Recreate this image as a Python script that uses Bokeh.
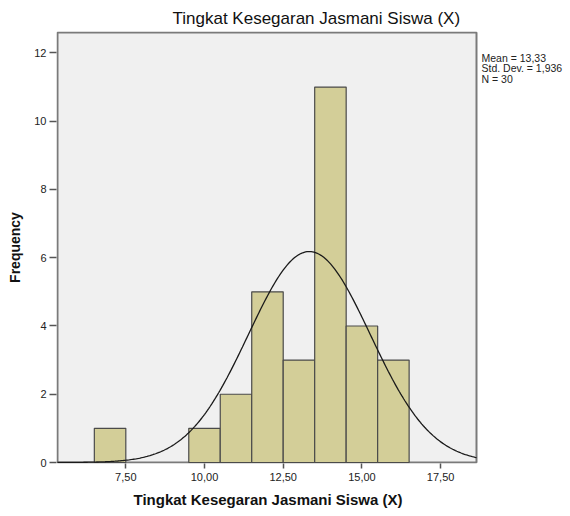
import numpy as np
from bokeh.plotting import figure
from bokeh.models import Range1d, FixedTicker, CustomJSTickFormatter, Title
from bokeh.core.properties import value
from bokeh.embed import file_html
from bokeh.resources import INLINE

# data
bin_centers = [7, 10, 11, 12, 13, 14, 15, 16]
counts = [1, 1, 2, 5, 3, 11, 4, 3]
bin_width = 1.0
mean = 13.33
std_dev = 1.936
n_obs = 30
x_ticks = [7.5, 10.0, 12.5, 15.0, 17.5]
y_ticks = [0, 2, 4, 6, 8, 10, 12]
title_text = "Tingkat Kesegaran Jasmani Siswa (X)"
x_label = "Tingkat Kesegaran Jasmani Siswa (X)"
y_label = "Frequency"
stats_lines = ["Mean = 13,33", "Std. Dev. = 1,936", "N = 30"]

# plotting area (grey box) limits
box_x0, box_x1 = 5.33, 18.64
box_y0, box_y1 = 0, 12.6

# the frame is a little wider than the grey box, so the statistics text fits inside it
px_x = 31.48  # pixels per x unit
px_y = 34.13  # pixels per y unit
x_range = Range1d(box_x0 - 1 / px_x, box_x1 + 90 / px_x)
y_range = Range1d(box_y0 - 1 / px_y, box_y1 + 1 / px_y)

p = figure(width=570, height=516, output_backend="svg", toolbar_location=None,
           x_range=x_range, y_range=y_range,
           min_border_left=56, min_border_right=4, min_border_top=31, min_border_bottom=53)

p.background_fill_color = "white"
p.border_fill_color = "white"
p.outline_line_color = None
p.xgrid.visible = False
p.ygrid.visible = False

# grey plot box with its border
p.quad(left=[box_x0], right=[box_x1], bottom=[box_y0], top=[box_y1],
       fill_color="#F0F0F0", line_color="#7A7A7A", line_width=2)

left = [c - bin_width / 2 for c in bin_centers]
right = [c + bin_width / 2 for c in bin_centers]
p.quad(left=left, right=right, bottom=0, top=counts,
       fill_color="#D3CE98", line_color="#4A4A4A", line_width=1.2)

xs = np.linspace(box_x0, box_x1, 300)
ys = n_obs * bin_width * np.exp(-0.5 * ((xs - mean) / std_dev) ** 2) / (std_dev * np.sqrt(2 * np.pi))
p.line(xs, ys, line_color="#1A1A1A", line_width=1.3)

font = "Liberation Sans"
fmt = CustomJSTickFormatter(code="return tick.toFixed(2).replace('.', ',');")

p.xaxis.ticker = FixedTicker(ticks=x_ticks)
p.xaxis.formatter = fmt
p.yaxis.ticker = FixedTicker(ticks=y_ticks)
for ax in (p.xaxis, p.yaxis):
    ax.axis_line_color = None
    ax.major_tick_line_color = "#555555"
    ax.major_tick_line_width = 1.5
    ax.major_tick_in = 0
    ax.minor_tick_line_color = None
    ax.major_label_text_font = font
    ax.major_label_text_font_size = "11px"
    ax.major_label_text_color = "#222222"
    ax.axis_label_text_font = font
    ax.axis_label_text_font_style = "bold"
    ax.axis_label_text_font_size = "14px"
    ax.axis_label_text_color = "#111111"
p.xaxis.major_tick_out = 5
p.yaxis.major_tick_out = 7
p.xaxis.major_label_standoff = 4
p.yaxis.major_label_standoff = 3
p.yaxis.axis_label = y_label
p.yaxis.axis_label_standoff = 8

# x-axis label centred under the grey box (not under the wider frame)
p.add_layout(Title(text=x_label, align="left", offset=77, text_font=font,
                   text_font_style="bold", text_font_size="15px", text_color="#111111",
                   standoff=10), "below")

p.title.text = title_text
p.title.text_font = font
p.title.text_font_style = "normal"
p.title.text_font_size = "17px"
p.title.text_color = "#111111"
p.title.align = "left"
p.title.offset = 116
p.title.standoff = 8

# statistics text at the right of the grey box
p.text(x=[box_x1] * len(stats_lines), y=[box_y1] * len(stats_lines), text=stats_lines,
       x_offset=5, y_offset=[19.5 + 10.3 * i for i in range(len(stats_lines))],
       text_font=value(font), text_font_size="10.5px", text_color="#222222",
       text_baseline="top", text_align="left")

open("out.html", "w").write(file_html(p, INLINE))
